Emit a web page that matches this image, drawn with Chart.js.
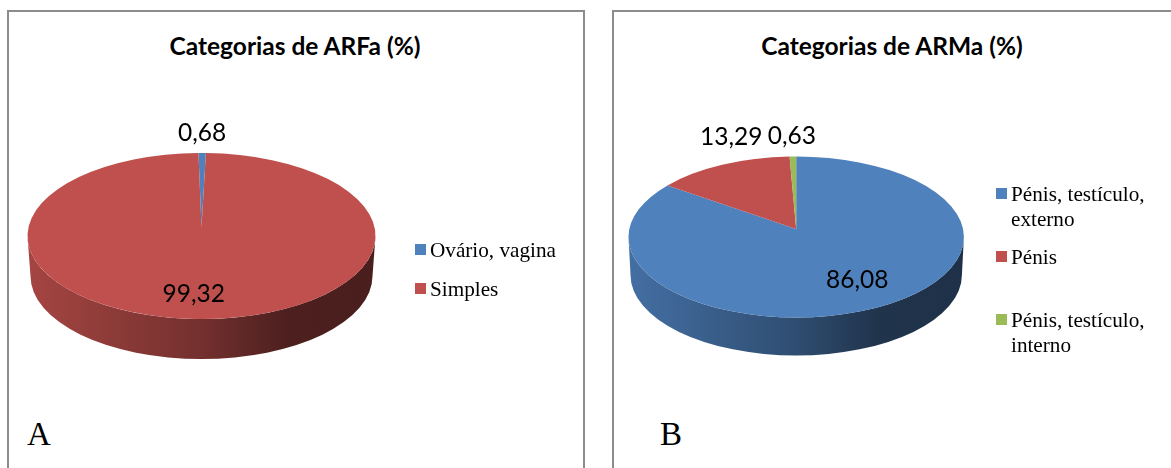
<!DOCTYPE html>
<html lang="pt">
<head>
  <meta charset="UTF-8">
  <title>Categorias de ARFa e ARMa</title>
  <script src="https://cdn.jsdelivr.net/npm/chart.js"></script>
  <style>
    html, body { margin: 0; background: #fff; }
    #page { position: relative; width: 1171px; height: 468px; overflow: hidden; }
    .frame { position: absolute; top: 10px; height: 470px; border: 2px solid #8c8c8c; box-sizing: border-box; }
    .chart-title { position: absolute; top: 31px; font: bold 24.5px Lato, sans-serif; color: #000; white-space: nowrap; transform: translateX(-50%); }
    .panel-letter { position: absolute; top: 416px; font: 33px 'Liberation Serif', serif; color: #000; }
    canvas { position: absolute; top: 0; }
    .legend-item { position: absolute; font: 21.2px/25px 'Liberation Serif', serif; color: #000; }
    .legend-item i { position: absolute; left: -15.5px; top: 6px; width: 11px; height: 11px; }
  </style>
</head>
<body>
  <div id="page">
    <div class="frame" style="left:7px;width:578px"></div>
    <div class="frame" style="left:612px;width:600px"></div>
    <div class="chart-title" style="left:295px">Categorias de ARFa (%)</div>
    <div class="chart-title" style="left:892px">Categorias de ARMa (%)</div>
    <div class="panel-letter" style="left:27px">A</div>
    <div class="panel-letter" style="left:660px">B</div>
    <canvas id="chartA" width="585" height="468" style="left:0"></canvas>
    <canvas id="chartB" width="581" height="468" style="left:590px"></canvas>
  </div>
  <script>
    // dados
    const categoriesA = ['Ovário, vagina', 'Simples'];
    const valuesA = [0.68, 99.32];
    const colorsA = ['#4f81bd', '#c0504d'];

    const categoriesB = ['Pénis, testículo, externo', 'Pénis', 'Pénis, testículo, interno'];
    const valuesB = [86.08, 13.29, 0.63];
    const colorsB = ['#4f81bd', '#c0504d', '#9bbb59'];

    function shade(hex, f) {
      const n = parseInt(hex.slice(1), 16);
      return `rgb(${(n >> 16) * f}, ${((n >> 8) & 255) * f}, ${(n & 255) * f})`;
    }

    // desenha o pie do Chart.js como disco 3D, usando os angulos dos arcos
    function pie3d(look) {
      return {
        id: 'pie3d',
        beforeDatasetsDraw(chart) {
          const ctx = chart.ctx;
          const arcs = chart.getDatasetMeta(0).data;
          const values = chart.data.datasets[0].data;
          arcs.forEach((arc, i) => {
            const a0 = Math.max(arc.startAngle, 0);
            const a1 = Math.min(arc.endAngle, Math.PI);
            if (a1 <= a0) return;
            const r = arc.outerRadius;
            const color = arc.options.backgroundColor;
            const grad = ctx.createLinearGradient(arc.x - r, 0, arc.x + r, 0);
            grad.addColorStop(0, shade(color, 0.86));
            grad.addColorStop(0.5, shade(color, 0.6));
            grad.addColorStop(0.74, shade(color, 0.4));
            grad.addColorStop(1, shade(color, 0.38));
            ctx.beginPath();
            ctx.ellipse(arc.x, arc.y, r, look.ry, 0, a0, a1);
            ctx.ellipse(arc.x, arc.y + look.depth, r - look.inset, look.ry, 0, a1, a0, true);
            ctx.closePath();
            ctx.fillStyle = grad;
            ctx.fill();
          });
          arcs.forEach(arc => {
            ctx.beginPath();
            ctx.moveTo(arc.x, arc.y - look.apexLift);
            ctx.ellipse(arc.x, arc.y, arc.outerRadius, look.ry, 0, arc.startAngle, arc.endAngle);
            ctx.closePath();
            ctx.fillStyle = arc.options.backgroundColor;
            ctx.fill();
          });
          // rotulos de valor
          ctx.font = '24.5px Lato, sans-serif';
          ctx.fillStyle = '#000';
          ctx.textAlign = 'center';
          ctx.textBaseline = 'middle';
          arcs.forEach((arc, i) => {
            const mid = (arc.startAngle + arc.endAngle) / 2;
            const x = arc.x + arc.outerRadius * Math.cos(mid) + look.labelShift[i][0];
            const y = arc.y + look.ry * Math.sin(mid) + look.labelShift[i][1];
            ctx.fillText(values[i].toFixed(2).replace('.', ','), x, y);
          });
          return false;
        }
      };
    }

    function drawPie(id, labels, values, colors, padding, rotation, look) {
      new Chart(document.getElementById(id), {
        type: 'pie',
        data: { labels: labels, datasets: [{ data: values, backgroundColor: colors, borderWidth: 0 }] },
        options: {
          responsive: false,
          animation: false,
          rotation: rotation,
          layout: { padding: padding },
          plugins: { legend: { display: false }, tooltip: { enabled: false } }
        },
        plugins: [pie3d(look)]
      });
    }

    function drawLegend(labels, colors, left, tops, width) {
      labels.forEach((label, i) => {
        const item = document.createElement('div');
        item.className = 'legend-item';
        item.style.cssText = `left:${left}px;top:${tops[i]}px;width:${width}px`;
        item.innerHTML = `<i style="background:${colors[i]}"></i>${label}`;
        document.getElementById('page').appendChild(item);
      });
    }

    drawPie('chartA', categoriesA, valuesA, colorsA,
      { left: 27.5, right: 209.5, top: 62, bottom: 58 }, -1,
      { ry: 83, depth: 40, inset: 3, apexLift: 9, labelShift: [[0, -20], [-7, -25]] });
    drawPie('chartB', categoriesB, valuesB, colorsB,
      { left: 38.5, right: 207.1, top: 69.3, bottom: 63.3 }, 0,
      { ry: 80.5, depth: 38, inset: 2, apexLift: 8, labelShift: [[-10, -30], [9, -28], [-1, -20]] });

    drawLegend(categoriesA, colorsA, 430, [238, 277], 140);
    drawLegend(categoriesB, colorsB, 1011, [182, 245, 308], 150);
  </script>
</body>
</html>
